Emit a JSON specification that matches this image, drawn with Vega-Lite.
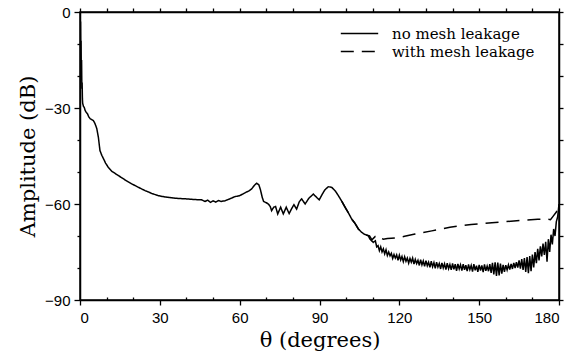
{
  "$schema": "https://vega.github.io/schema/vega-lite/v6.json",
  "width": 479,
  "height": 288,
  "autosize": {"type": "none"},
  "padding": {"left": 80, "top": 12, "right": 13, "bottom": 60},
  "background": "white",
  "config": {
    "view": {"stroke": "black", "strokeWidth": 1.5},
    "axis": {"grid": false, "domainColor": "black", "domainWidth": 1.5, "tickColor": "black", "tickWidth": 1.3,
      "labelFont": "Liberation Sans", "labelFontSize": 15, "labelColor": "black",
      "titleFont": "DejaVu Serif", "titleFontSize": 21, "titleFontWeight": "normal", "titleColor": "black"},
    "legend": {"labelFont": "DejaVu Serif", "labelFontSize": 15, "labelColor": "black"}
  },
  "data": {"values": [
    {"theta": 0, "amp": 0, "series": "no mesh leakage"},
    {"theta": 0.1, "amp": -6, "series": "no mesh leakage"},
    {"theta": 0.2, "amp": -3, "series": "no mesh leakage"},
    {"theta": 0.3, "amp": -14, "series": "no mesh leakage"},
    {"theta": 0.4, "amp": -9, "series": "no mesh leakage"},
    {"theta": 0.5, "amp": -20, "series": "no mesh leakage"},
    {"theta": 0.6, "amp": -15, "series": "no mesh leakage"},
    {"theta": 0.7, "amp": -24, "series": "no mesh leakage"},
    {"theta": 0.8, "amp": -22, "series": "no mesh leakage"},
    {"theta": 0.9, "amp": -27, "series": "no mesh leakage"},
    {"theta": 1.0, "amp": -28.5, "series": "no mesh leakage"},
    {"theta": 1.3, "amp": -29.5, "series": "no mesh leakage"},
    {"theta": 1.6, "amp": -29.8, "series": "no mesh leakage"},
    {"theta": 1.9, "amp": -30.7, "series": "no mesh leakage"},
    {"theta": 2.3, "amp": -31.3, "series": "no mesh leakage"},
    {"theta": 2.8, "amp": -31.8, "series": "no mesh leakage"},
    {"theta": 3.3, "amp": -32.8, "series": "no mesh leakage"},
    {"theta": 3.8, "amp": -33.3, "series": "no mesh leakage"},
    {"theta": 4.4, "amp": -33.6, "series": "no mesh leakage"},
    {"theta": 5.0, "amp": -33.9, "series": "no mesh leakage"},
    {"theta": 5.6, "amp": -34.8, "series": "no mesh leakage"},
    {"theta": 6.3, "amp": -36.4, "series": "no mesh leakage"},
    {"theta": 6.9, "amp": -39.1, "series": "no mesh leakage"},
    {"theta": 7.5, "amp": -43.3, "series": "no mesh leakage"},
    {"theta": 8.2, "amp": -44.8, "series": "no mesh leakage"},
    {"theta": 8.8, "amp": -45.8, "series": "no mesh leakage"},
    {"theta": 9.6, "amp": -47.2, "series": "no mesh leakage"},
    {"theta": 10.6, "amp": -48.5, "series": "no mesh leakage"},
    {"theta": 12.0, "amp": -49.8, "series": "no mesh leakage"},
    {"theta": 14.4, "amp": -51.1, "series": "no mesh leakage"},
    {"theta": 17, "amp": -52.5, "series": "no mesh leakage"},
    {"theta": 19.4, "amp": -53.7, "series": "no mesh leakage"},
    {"theta": 22, "amp": -54.8, "series": "no mesh leakage"},
    {"theta": 24.4, "amp": -55.8, "series": "no mesh leakage"},
    {"theta": 27, "amp": -56.7, "series": "no mesh leakage"},
    {"theta": 29.4, "amp": -57.4, "series": "no mesh leakage"},
    {"theta": 32, "amp": -57.8, "series": "no mesh leakage"},
    {"theta": 35.7, "amp": -58.2, "series": "no mesh leakage"},
    {"theta": 40, "amp": -58.4, "series": "no mesh leakage"},
    {"theta": 43, "amp": -58.6, "series": "no mesh leakage"},
    {"theta": 45.7, "amp": -58.7, "series": "no mesh leakage"},
    {"theta": 47, "amp": -59.2, "series": "no mesh leakage"},
    {"theta": 48, "amp": -58.8, "series": "no mesh leakage"},
    {"theta": 49, "amp": -59.5, "series": "no mesh leakage"},
    {"theta": 50, "amp": -59.0, "series": "no mesh leakage"},
    {"theta": 51, "amp": -59.4, "series": "no mesh leakage"},
    {"theta": 52, "amp": -58.9, "series": "no mesh leakage"},
    {"theta": 53, "amp": -59.2, "series": "no mesh leakage"},
    {"theta": 54.5, "amp": -59.0, "series": "no mesh leakage"},
    {"theta": 56, "amp": -58.5, "series": "no mesh leakage"},
    {"theta": 58.2, "amp": -57.7, "series": "no mesh leakage"},
    {"theta": 60, "amp": -57.4, "series": "no mesh leakage"},
    {"theta": 62, "amp": -56.5, "series": "no mesh leakage"},
    {"theta": 63.5, "amp": -55.9, "series": "no mesh leakage"},
    {"theta": 64.5, "amp": -55.3, "series": "no mesh leakage"},
    {"theta": 65.5, "amp": -54.2, "series": "no mesh leakage"},
    {"theta": 66.4, "amp": -53.5, "series": "no mesh leakage"},
    {"theta": 67.2, "amp": -54.0, "series": "no mesh leakage"},
    {"theta": 67.8, "amp": -55.5, "series": "no mesh leakage"},
    {"theta": 68.5, "amp": -58, "series": "no mesh leakage"},
    {"theta": 69, "amp": -59.2, "series": "no mesh leakage"},
    {"theta": 70, "amp": -59.6, "series": "no mesh leakage"},
    {"theta": 70.8, "amp": -60, "series": "no mesh leakage"},
    {"theta": 71.5, "amp": -60.8, "series": "no mesh leakage"},
    {"theta": 72, "amp": -62.1, "series": "no mesh leakage"},
    {"theta": 72.8, "amp": -61, "series": "no mesh leakage"},
    {"theta": 73.5, "amp": -60.8, "series": "no mesh leakage"},
    {"theta": 74.3, "amp": -63.1, "series": "no mesh leakage"},
    {"theta": 75.4, "amp": -61, "series": "no mesh leakage"},
    {"theta": 76.4, "amp": -63.1, "series": "no mesh leakage"},
    {"theta": 77.5, "amp": -61, "series": "no mesh leakage"},
    {"theta": 78.6, "amp": -63, "series": "no mesh leakage"},
    {"theta": 79.5, "amp": -61.5, "series": "no mesh leakage"},
    {"theta": 80.4, "amp": -60.2, "series": "no mesh leakage"},
    {"theta": 81.4, "amp": -61.6, "series": "no mesh leakage"},
    {"theta": 82.4, "amp": -59.3, "series": "no mesh leakage"},
    {"theta": 83.3, "amp": -58.4, "series": "no mesh leakage"},
    {"theta": 84.6, "amp": -60, "series": "no mesh leakage"},
    {"theta": 86, "amp": -58.2, "series": "no mesh leakage"},
    {"theta": 87.7, "amp": -56.9, "series": "no mesh leakage"},
    {"theta": 89, "amp": -58, "series": "no mesh leakage"},
    {"theta": 89.9, "amp": -58.7, "series": "no mesh leakage"},
    {"theta": 91, "amp": -57, "series": "no mesh leakage"},
    {"theta": 92, "amp": -55.6, "series": "no mesh leakage"},
    {"theta": 93.3, "amp": -54.6, "series": "no mesh leakage"},
    {"theta": 94.6, "amp": -54.8, "series": "no mesh leakage"},
    {"theta": 96, "amp": -56, "series": "no mesh leakage"},
    {"theta": 97.1, "amp": -57.4, "series": "no mesh leakage"},
    {"theta": 98.4, "amp": -59.2, "series": "no mesh leakage"},
    {"theta": 99.6, "amp": -61, "series": "no mesh leakage"},
    {"theta": 101, "amp": -63, "series": "no mesh leakage"},
    {"theta": 102.1, "amp": -64.7, "series": "no mesh leakage"},
    {"theta": 103.3, "amp": -66, "series": "no mesh leakage"},
    {"theta": 104.6, "amp": -67.8, "series": "no mesh leakage"},
    {"theta": 105.9, "amp": -68.9, "series": "no mesh leakage"},
    {"theta": 107, "amp": -69.5, "series": "no mesh leakage"},
    {"theta": 108.3, "amp": -69.9, "series": "no mesh leakage"},
    {"theta": 109, "amp": -71.0, "series": "no mesh leakage"},
    {"theta": 110.2, "amp": -72, "series": "no mesh leakage"},
    {"theta": 111, "amp": -71.5, "series": "no mesh leakage"},
    {"theta": 111.5, "amp": -73.4, "series": "no mesh leakage"},
    {"theta": 112, "amp": -73.0, "series": "no mesh leakage"},
    {"theta": 112.5, "amp": -74.6, "series": "no mesh leakage"},
    {"theta": 113, "amp": -73.4, "series": "no mesh leakage"},
    {"theta": 113.5, "amp": -75.0, "series": "no mesh leakage"},
    {"theta": 114, "amp": -74.0, "series": "no mesh leakage"},
    {"theta": 114.5, "amp": -75.6, "series": "no mesh leakage"},
    {"theta": 115, "amp": -74.3, "series": "no mesh leakage"},
    {"theta": 115.5, "amp": -76.1, "series": "no mesh leakage"},
    {"theta": 116, "amp": -75.0, "series": "no mesh leakage"},
    {"theta": 116.5, "amp": -76.2, "series": "no mesh leakage"},
    {"theta": 117, "amp": -75.4, "series": "no mesh leakage"},
    {"theta": 117.5, "amp": -77.0, "series": "no mesh leakage"},
    {"theta": 118, "amp": -75.8, "series": "no mesh leakage"},
    {"theta": 118.5, "amp": -76.9, "series": "no mesh leakage"},
    {"theta": 119, "amp": -75.9, "series": "no mesh leakage"},
    {"theta": 119.5, "amp": -77.6, "series": "no mesh leakage"},
    {"theta": 120, "amp": -76.0, "series": "no mesh leakage"},
    {"theta": 120.5, "amp": -77.5, "series": "no mesh leakage"},
    {"theta": 121, "amp": -76.4, "series": "no mesh leakage"},
    {"theta": 121.5, "amp": -78.0, "series": "no mesh leakage"},
    {"theta": 122, "amp": -76.5, "series": "no mesh leakage"},
    {"theta": 122.5, "amp": -77.9, "series": "no mesh leakage"},
    {"theta": 123, "amp": -76.9, "series": "no mesh leakage"},
    {"theta": 123.5, "amp": -78.5, "series": "no mesh leakage"},
    {"theta": 124, "amp": -77.0, "series": "no mesh leakage"},
    {"theta": 124.5, "amp": -78.2, "series": "no mesh leakage"},
    {"theta": 125, "amp": -76.9, "series": "no mesh leakage"},
    {"theta": 125.5, "amp": -78.8, "series": "no mesh leakage"},
    {"theta": 126, "amp": -77.3, "series": "no mesh leakage"},
    {"theta": 126.5, "amp": -78.6, "series": "no mesh leakage"},
    {"theta": 127, "amp": -77.6, "series": "no mesh leakage"},
    {"theta": 127.5, "amp": -79.2, "series": "no mesh leakage"},
    {"theta": 128, "amp": -77.4, "series": "no mesh leakage"},
    {"theta": 128.5, "amp": -79.0, "series": "no mesh leakage"},
    {"theta": 129, "amp": -77.8, "series": "no mesh leakage"},
    {"theta": 129.5, "amp": -79.5, "series": "no mesh leakage"},
    {"theta": 130, "amp": -77.7, "series": "no mesh leakage"},
    {"theta": 130.5, "amp": -79.3, "series": "no mesh leakage"},
    {"theta": 131, "amp": -78.2, "series": "no mesh leakage"},
    {"theta": 131.5, "amp": -79.8, "series": "no mesh leakage"},
    {"theta": 132, "amp": -77.9, "series": "no mesh leakage"},
    {"theta": 132.5, "amp": -79.6, "series": "no mesh leakage"},
    {"theta": 133, "amp": -78.3, "series": "no mesh leakage"},
    {"theta": 133.5, "amp": -80.1, "series": "no mesh leakage"},
    {"theta": 134, "amp": -78.2, "series": "no mesh leakage"},
    {"theta": 134.5, "amp": -79.7, "series": "no mesh leakage"},
    {"theta": 135, "amp": -78.6, "series": "no mesh leakage"},
    {"theta": 135.5, "amp": -80.3, "series": "no mesh leakage"},
    {"theta": 136, "amp": -78.4, "series": "no mesh leakage"},
    {"theta": 136.5, "amp": -80.0, "series": "no mesh leakage"},
    {"theta": 137, "amp": -78.7, "series": "no mesh leakage"},
    {"theta": 137.5, "amp": -80.5, "series": "no mesh leakage"},
    {"theta": 138, "amp": -78.5, "series": "no mesh leakage"},
    {"theta": 138.5, "amp": -80.2, "series": "no mesh leakage"},
    {"theta": 139, "amp": -78.9, "series": "no mesh leakage"},
    {"theta": 139.5, "amp": -80.6, "series": "no mesh leakage"},
    {"theta": 140, "amp": -78.6, "series": "no mesh leakage"},
    {"theta": 140.5, "amp": -80.4, "series": "no mesh leakage"},
    {"theta": 141, "amp": -78.8, "series": "no mesh leakage"},
    {"theta": 141.5, "amp": -80.9, "series": "no mesh leakage"},
    {"theta": 142, "amp": -78.7, "series": "no mesh leakage"},
    {"theta": 142.5, "amp": -80.3, "series": "no mesh leakage"},
    {"theta": 143, "amp": -79.0, "series": "no mesh leakage"},
    {"theta": 143.5, "amp": -80.8, "series": "no mesh leakage"},
    {"theta": 144, "amp": -78.8, "series": "no mesh leakage"},
    {"theta": 144.5, "amp": -80.6, "series": "no mesh leakage"},
    {"theta": 145, "amp": -79.1, "series": "no mesh leakage"},
    {"theta": 145.5, "amp": -81.0, "series": "no mesh leakage"},
    {"theta": 146, "amp": -78.9, "series": "no mesh leakage"},
    {"theta": 146.5, "amp": -80.5, "series": "no mesh leakage"},
    {"theta": 147, "amp": -79.2, "series": "no mesh leakage"},
    {"theta": 147.5, "amp": -81.1, "series": "no mesh leakage"},
    {"theta": 148, "amp": -78.8, "series": "no mesh leakage"},
    {"theta": 148.5, "amp": -80.7, "series": "no mesh leakage"},
    {"theta": 149, "amp": -79.3, "series": "no mesh leakage"},
    {"theta": 149.5, "amp": -81.2, "series": "no mesh leakage"},
    {"theta": 150, "amp": -79.0, "series": "no mesh leakage"},
    {"theta": 150.5, "amp": -80.8, "series": "no mesh leakage"},
    {"theta": 151, "amp": -79.2, "series": "no mesh leakage"},
    {"theta": 151.5, "amp": -81.3, "series": "no mesh leakage"},
    {"theta": 152, "amp": -78.9, "series": "no mesh leakage"},
    {"theta": 152.5, "amp": -80.9, "series": "no mesh leakage"},
    {"theta": 153, "amp": -79.4, "series": "no mesh leakage"},
    {"theta": 153.5, "amp": -81.0, "series": "no mesh leakage"},
    {"theta": 154, "amp": -78.8, "series": "no mesh leakage"},
    {"theta": 154.5, "amp": -81.5, "series": "no mesh leakage"},
    {"theta": 155, "amp": -78.4, "series": "no mesh leakage"},
    {"theta": 155.5, "amp": -82.0, "series": "no mesh leakage"},
    {"theta": 156, "amp": -78.2, "series": "no mesh leakage"},
    {"theta": 156.5, "amp": -82.5, "series": "no mesh leakage"},
    {"theta": 157, "amp": -78.3, "series": "no mesh leakage"},
    {"theta": 157.5, "amp": -82.3, "series": "no mesh leakage"},
    {"theta": 158, "amp": -78.6, "series": "no mesh leakage"},
    {"theta": 158.5, "amp": -81.8, "series": "no mesh leakage"},
    {"theta": 159, "amp": -79.0, "series": "no mesh leakage"},
    {"theta": 159.5, "amp": -81.2, "series": "no mesh leakage"},
    {"theta": 160, "amp": -79.1, "series": "no mesh leakage"},
    {"theta": 160.5, "amp": -80.6, "series": "no mesh leakage"},
    {"theta": 161, "amp": -79.0, "series": "no mesh leakage"},
    {"theta": 161.5, "amp": -80.5, "series": "no mesh leakage"},
    {"theta": 162, "amp": -78.7, "series": "no mesh leakage"},
    {"theta": 162.5, "amp": -80.3, "series": "no mesh leakage"},
    {"theta": 163, "amp": -78.4, "series": "no mesh leakage"},
    {"theta": 163.5, "amp": -80.0, "series": "no mesh leakage"},
    {"theta": 164, "amp": -78.2, "series": "no mesh leakage"},
    {"theta": 164.5, "amp": -79.9, "series": "no mesh leakage"},
    {"theta": 165, "amp": -77.6, "series": "no mesh leakage"},
    {"theta": 165.5, "amp": -80.2, "series": "no mesh leakage"},
    {"theta": 166, "amp": -77.2, "series": "no mesh leakage"},
    {"theta": 166.5, "amp": -80.6, "series": "no mesh leakage"},
    {"theta": 167, "amp": -76.9, "series": "no mesh leakage"},
    {"theta": 167.5, "amp": -81.2, "series": "no mesh leakage"},
    {"theta": 168, "amp": -76.6, "series": "no mesh leakage"},
    {"theta": 168.5, "amp": -81.6, "series": "no mesh leakage"},
    {"theta": 169, "amp": -76.3, "series": "no mesh leakage"},
    {"theta": 169.5, "amp": -81.0, "series": "no mesh leakage"},
    {"theta": 170, "amp": -75.8, "series": "no mesh leakage"},
    {"theta": 170.5, "amp": -79.8, "series": "no mesh leakage"},
    {"theta": 171, "amp": -75.0, "series": "no mesh leakage"},
    {"theta": 171.5, "amp": -78.5, "series": "no mesh leakage"},
    {"theta": 172, "amp": -74.0, "series": "no mesh leakage"},
    {"theta": 172.5, "amp": -77.6, "series": "no mesh leakage"},
    {"theta": 173, "amp": -73.2, "series": "no mesh leakage"},
    {"theta": 173.5, "amp": -76.4, "series": "no mesh leakage"},
    {"theta": 174, "amp": -72.4, "series": "no mesh leakage"},
    {"theta": 174.5, "amp": -75.9, "series": "no mesh leakage"},
    {"theta": 175, "amp": -71.8, "series": "no mesh leakage"},
    {"theta": 175.5, "amp": -78.0, "series": "no mesh leakage"},
    {"theta": 176, "amp": -71.0, "series": "no mesh leakage"},
    {"theta": 176.5, "amp": -75.0, "series": "no mesh leakage"},
    {"theta": 177, "amp": -69.6, "series": "no mesh leakage"},
    {"theta": 177.5, "amp": -72.6, "series": "no mesh leakage"},
    {"theta": 178, "amp": -67.8, "series": "no mesh leakage"},
    {"theta": 178.5, "amp": -70.0, "series": "no mesh leakage"},
    {"theta": 179, "amp": -65.5, "series": "no mesh leakage"},
    {"theta": 179.5, "amp": -64.0, "series": "no mesh leakage"},
    {"theta": 180, "amp": -60, "series": "no mesh leakage"},
    {"theta": 98.4, "amp": -59.2, "series": "with mesh leakage"},
    {"theta": 99.6, "amp": -61, "series": "with mesh leakage"},
    {"theta": 101, "amp": -63, "series": "with mesh leakage"},
    {"theta": 102.1, "amp": -64.7, "series": "with mesh leakage"},
    {"theta": 103.3, "amp": -66, "series": "with mesh leakage"},
    {"theta": 104.6, "amp": -67.8, "series": "with mesh leakage"},
    {"theta": 105.9, "amp": -68.9, "series": "with mesh leakage"},
    {"theta": 107, "amp": -69.5, "series": "with mesh leakage"},
    {"theta": 108.8, "amp": -70, "series": "with mesh leakage"},
    {"theta": 109.7, "amp": -71.2, "series": "with mesh leakage"},
    {"theta": 110.9, "amp": -70.2, "series": "with mesh leakage"},
    {"theta": 112, "amp": -71, "series": "with mesh leakage"},
    {"theta": 113, "amp": -70.6, "series": "with mesh leakage"},
    {"theta": 114, "amp": -71, "series": "with mesh leakage"},
    {"theta": 115.5, "amp": -70.8, "series": "with mesh leakage"},
    {"theta": 117, "amp": -70.7, "series": "with mesh leakage"},
    {"theta": 119.6, "amp": -70.5, "series": "with mesh leakage"},
    {"theta": 122, "amp": -70.1, "series": "with mesh leakage"},
    {"theta": 125.9, "amp": -69.4, "series": "with mesh leakage"},
    {"theta": 129, "amp": -68.9, "series": "with mesh leakage"},
    {"theta": 132.2, "amp": -68.4, "series": "with mesh leakage"},
    {"theta": 136, "amp": -67.8, "series": "with mesh leakage"},
    {"theta": 139, "amp": -67.3, "series": "with mesh leakage"},
    {"theta": 143, "amp": -66.8, "series": "with mesh leakage"},
    {"theta": 147, "amp": -66.4, "series": "with mesh leakage"},
    {"theta": 151.6, "amp": -66.1, "series": "with mesh leakage"},
    {"theta": 156, "amp": -65.8, "series": "with mesh leakage"},
    {"theta": 160, "amp": -65.5, "series": "with mesh leakage"},
    {"theta": 164.1, "amp": -65.2, "series": "with mesh leakage"},
    {"theta": 168, "amp": -65.0, "series": "with mesh leakage"},
    {"theta": 172, "amp": -64.8, "series": "with mesh leakage"},
    {"theta": 175.4, "amp": -64.7, "series": "with mesh leakage"},
    {"theta": 176.8, "amp": -64.9, "series": "with mesh leakage"},
    {"theta": 177.9, "amp": -63.7, "series": "with mesh leakage"},
    {"theta": 179, "amp": -62.5, "series": "with mesh leakage"},
    {"theta": 179.8, "amp": -61, "series": "with mesh leakage"},
    {"theta": 180, "amp": -60, "series": "with mesh leakage"}
  ]},
  "layer": [
    {
      "mark": {"type": "line", "color": "black", "strokeWidth": 1.5, "clip": true},
      "encoding": {
        "x": {"field": "theta", "type": "quantitative", "sort": null,
          "scale": {"domain": [0, 180], "nice": false, "zero": false},
          "axis": {"orient": "bottom", "values": [0, 30, 60, 90, 120, 150, 180], "tickSize": 5, "labelPadding": 5, "title": "θ (degrees)", "titlePadding": 4}},
        "y": {"field": "amp", "type": "quantitative",
          "scale": {"domain": [-90, 0], "nice": false, "zero": false},
          "axis": {"orient": "left", "values": [0, -30, -60, -90], "tickSize": 6, "labelPadding": 4, "title": "Amplitude (dB)", "titlePadding": 6}},
        "strokeDash": {"field": "series", "type": "nominal",
          "scale": {"domain": ["no mesh leakage", "with mesh leakage"], "range": [[1, 0], [13, 8]]},
          "legend": {"title": null, "orient": "none", "legendX": 270, "legendY": 12, "padding": 0,
            "symbolType": "M-2.2,0H2.2", "symbolSize": 289, "symbolStrokeColor": "black", "symbolStrokeWidth": 1.5, "symbolFillColor": "transparent",
            "labelFont": "DejaVu Serif", "labelFontSize": 15, "labelColor": "black", "labelOffset": 23, "rowPadding": 0}}
      }
    },
    {
      "mark": {"type": "line", "strokeOpacity": 0},
      "encoding": {
        "x": {"field": "theta", "type": "quantitative", "scale": {"domain": [0, 180], "nice": false, "zero": false},
          "axis": {"orient": "bottom", "values": [10, 20, 40, 50, 70, 80, 100, 110, 130, 140, 160, 170], "tickSize": -3, "labels": false, "domain": false, "title": null}},
        "y": {"field": "amp", "type": "quantitative", "scale": {"domain": [-90, 0], "nice": false, "zero": false},
          "axis": {"orient": "left", "values": [-10, -20, -40, -50, -70, -80], "tickSize": 3, "labels": false, "domain": false, "title": null}}
      }
    },
    {
      "mark": {"type": "line", "strokeOpacity": 0},
      "encoding": {
        "x": {"field": "theta", "type": "quantitative", "scale": {"domain": [0, 180], "nice": false, "zero": false},
          "axis": {"orient": "top", "values": [0, 10, 20, 30, 40, 50, 60, 70, 80, 90, 100, 110, 120, 130, 140, 150, 160, 170, 180], "tickSize": 4, "labels": false, "title": null}},
        "y": {"field": "amp", "type": "quantitative", "scale": {"domain": [-90, 0], "nice": false, "zero": false},
          "axis": {"orient": "right", "values": [0, -10, -20, -30, -40, -50, -60, -70, -80, -90], "tickSize": 4, "labels": false, "title": null}}
      }
    }
  ],
  "resolve": {"axis": {"x": "independent", "y": "independent"}}
}
